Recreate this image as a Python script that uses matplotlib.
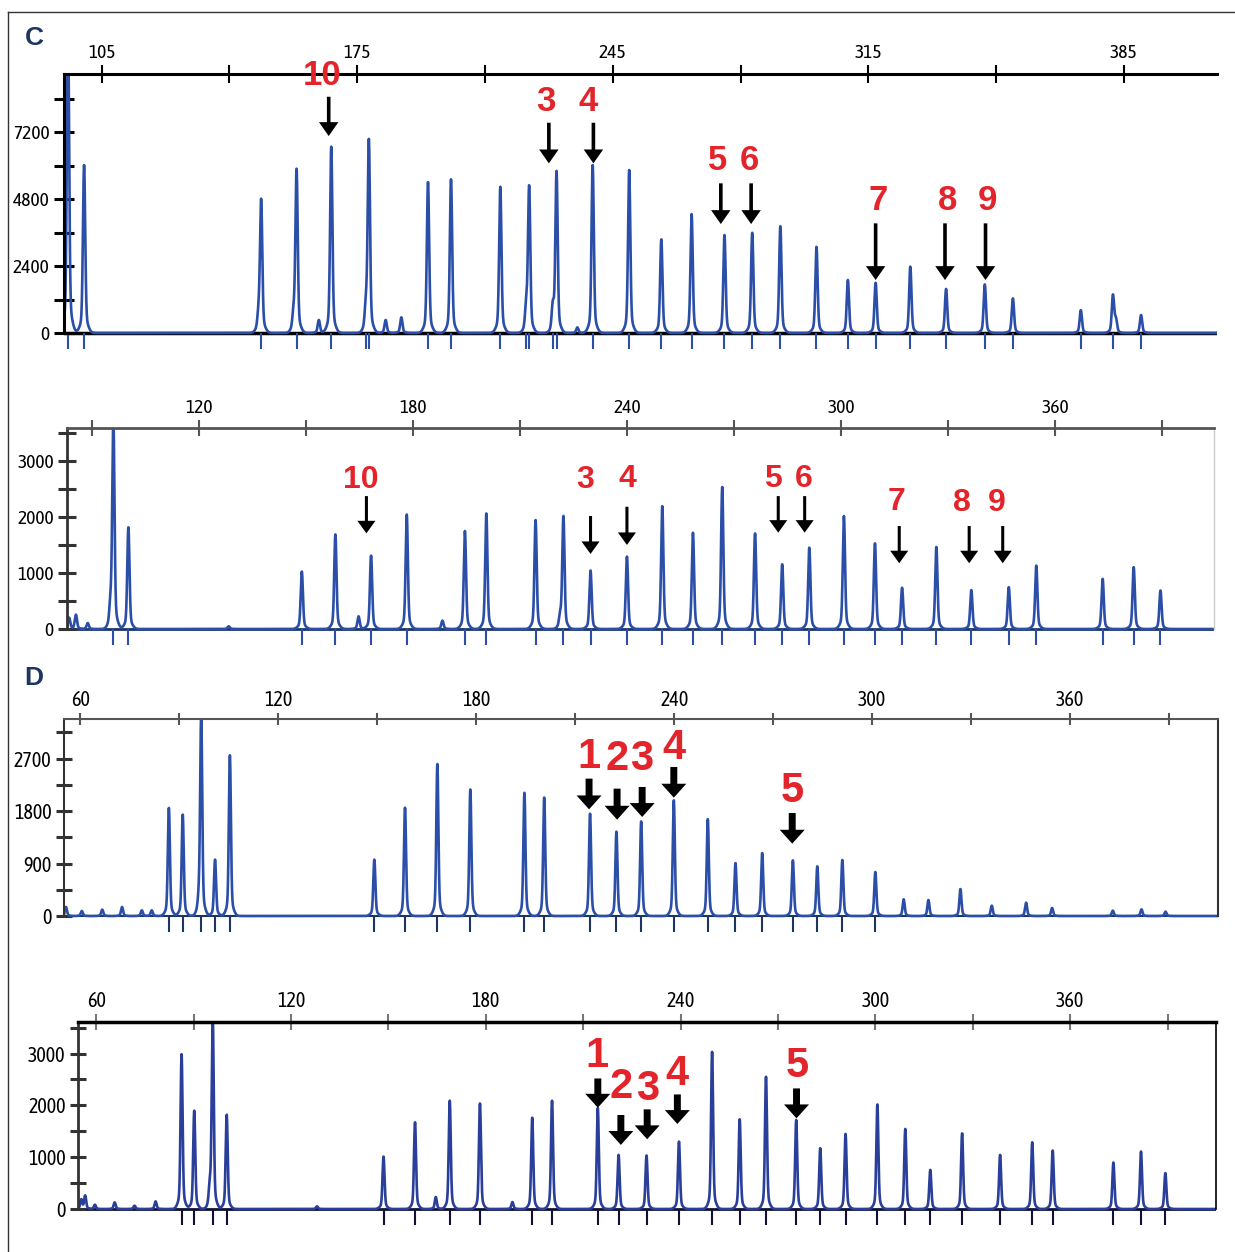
import numpy as np
import matplotlib
matplotlib.use('Agg')
import matplotlib.pyplot as plt
from matplotlib.lines import Line2D

plt.rcParams['font.family'] = ['Asap Condensed', 'Archivo Narrow', 'DejaVu Sans']

# ---- panel C, top trace ----
c1_size = [95.8, 100.2, 148.0, 148.7, 157.6, 158.4, 164.5, 167.9, 177.4, 178.2, 182.8, 187.1,
           194.4, 200.7, 214.2, 221.3, 222.1, 228.6, 229.6, 235.3, 239.5, 249.5, 258.3, 266.6,
           275.6, 283.2, 290.9, 300.8, 309.4, 317.0, 326.5, 336.3, 346.9, 354.6, 373.2, 382.0,
           382.8, 389.7]
c1_height = [11000, 6020, 560, 4740, 560, 5840, 465, 6675, 800, 6880, 465, 560,
             5410, 5505, 5240, 800, 5220, 860, 5760, 200, 6020, 5840, 3355, 4260,
             3510, 3595, 3830, 3090, 1900, 1800, 2380, 1580, 1740, 1240, 820, 1340,
             460, 645]
c1_labels = ['10', '3', '4', '5', '6', '7', '8', '9']
c1_label_x = [165.5, 226.7, 238.3, 273.8, 282.4, 317.6, 336.6, 347.7]
c1_label_y = [9242, 8285, 8285, 6172, 6172, 4764, 4764, 4764]
c1_arrow_x = [167.2, 227.5, 239.7, 274.6, 282.9, 317.0, 336.0, 347.1]
c1_arrow_tail = [8465, 7533, 7533, 5362, 5362, 3929, 3929, 3929]
c1_arrow_tip = [7057, 6078, 6078, 3904, 3904, 1898, 1898, 1898]
c1_xticks = [105, 175, 245, 315, 385]
c1_xminor = [140, 210, 280, 350]
c1_yticks = [0, 2400, 4800, 7200]
c1_yminor = [1200, 3600, 6000, 8400]

# ---- panel C, bottom trace ----
c2_size = [83.7, 85.6, 88.9, 95.3, 96.1, 100.3, 128.4, 148.9, 158.3, 164.8, 168.3, 178.3,
           188.3, 194.6, 200.6, 214.4, 221.3, 222.2, 229.8, 240.0, 249.9, 258.5, 266.7,
           275.9, 283.5, 291.1, 300.8, 309.5, 317.1, 326.7, 336.5, 347.0, 354.7, 373.3,
           382.0, 389.5]
c2_height = [200, 255, 107, 345, 3700, 1818, 48, 1028, 1693, 226, 1313, 2049,
             149, 1752, 2067, 1948, 196, 2008, 1045, 1295, 2198, 1723, 2542,
             1711, 1158, 1455, 2020, 1533, 737, 1467, 695, 748, 1135, 897,
             1105, 689]
c2_labels = ['10', '3', '4', '5', '6', '7', '8', '9']
c2_label_x = [165.3, 228.4, 240.2, 281.0, 289.5, 315.5, 334.0, 343.6]
c2_label_y = [2673, 2673, 2691, 2691, 2691, 2275, 2257, 2257]
c2_arrow_x = [167.0, 229.8, 240.0, 282.4, 289.8, 316.3, 335.9, 345.3]
c2_arrow_tail = [2376, 2020, 2186, 2376, 2376, 1841, 1841, 1841]
c2_arrow_tip = [1711, 1342, 1503, 1723, 1723, 1176, 1176, 1176]
c2_xticks = [120, 180, 240, 300, 360]
c2_xminor = [90, 150, 210, 270, 330, 390]
c2_yticks = [0, 1000, 2000, 3000]
c2_yminor = [500, 1500, 2500, 3500]

# ---- panel D, top trace ----
c3_size = [55.6, 60.4, 66.6, 72.6, 78.6, 81.6, 86.8, 91.0, 95.9, 96.6, 100.8, 105.3,
           149.1, 158.4, 168.2, 178.2, 194.6, 200.6, 214.5, 222.5, 230.0, 239.9, 250.2,
           258.6, 266.7, 276.0, 283.4, 291.0, 301.0, 309.6, 317.1, 326.8, 336.3, 346.7,
           354.6, 373.0, 381.7, 389.0]
c3_height = [154, 86, 109, 154, 97, 97, 1853, 1739, 200, 3450, 967, 2757,
             967, 1859, 2608, 2174, 2116, 2036, 1756, 1447, 1624, 1985, 1665,
             909, 1081, 955, 852, 961, 755, 286, 275, 463, 177, 229,
             137, 92, 114, 74]
d1_labels = ['1', '2', '3', '4', '5']
d1_label_x = [214.2, 222.7, 230.1, 239.9, 275.7]
d1_label_y = [2728, 2700, 2700, 2889, 2139]
d1_arrow_x = [214.2, 222.7, 230.3, 239.9, 275.8]
d1_arrow_tail = [2357, 2185, 2214, 2557, 1767]
d1_arrow_tip = [1830, 1653, 1699, 2031, 1241]
c3_xticks = [60, 120, 180, 240, 300, 360]
c3_xminor = [90, 150, 210, 270, 330, 390]
c3_yticks = [0, 900, 1800, 2700]
c3_yminor = [450, 1350, 2250, 3150]

# ---- panel D, bottom trace ----
c4_size = [55.4, 56.6, 59.6, 65.7, 71.8, 78.3, 86.3, 90.2, 95.0, 95.9, 100.2, 128.0,
           148.5, 158.2, 164.6, 168.9, 178.2, 188.2, 194.3, 200.4, 214.5, 220.9, 229.5,
           239.5, 249.7, 258.2, 266.3, 275.6, 283.0, 290.8, 300.6, 309.2, 316.9, 326.7,
           338.4, 348.3, 354.6, 373.3, 381.8, 389.3]
c4_height = [180, 256, 83, 128, 64, 147, 2987, 1897, 350, 3700, 1820, 51,
             1013, 1673, 231, 2090, 2038, 135, 1763, 2090, 1949, 1045, 1032,
             1301, 3032, 1731, 2551, 1718, 1173, 1449, 2019, 1545, 756, 1461,
             1045, 1288, 1128, 897, 1109, 692]
d2_labels = ['1', '2', '3', '4', '5']
d2_label_x = [214.1, 221.6, 229.7, 239.0, 276.0]
d2_label_y = [2949, 2359, 2308, 2596, 2756]
d2_arrow_x = [214.5, 221.6, 229.7, 239.0, 275.7]
d2_arrow_tail = [2519, 1814, 1923, 2211, 2327]
d2_arrow_tip = [1955, 1237, 1346, 1641, 1750]
c4_xticks = [60, 120, 180, 240, 300, 360]
c4_xminor = [90, 150, 210, 270, 330, 390]
c4_yticks = [0, 1000, 2000, 3000]
c4_yminor = [500, 1500, 2500, 3500]

W, H = 1235, 1252
fig = plt.figure(figsize=(W / 100, H / 100), dpi=100)

BLUE = '#2b4fa8'
RED = '#e3242b'
NAVY = '#1c3563'
BOLD = ['Liberation Sans', 'DejaVu Sans']


def make_axes(left, right, top, base, xlim, ymax, below=20):
    ax = fig.add_axes([left / W, 1 - (base + below) / H, (right - left) / W, (base + below - top) / H])
    ax.set_xlim(*xlim)
    ax.set_ylim(-ymax * below / (base - top), ymax)
    ax.patch.set_alpha(0)
    return ax


def draw_trace(ax, sizes, heights, xlim, color, lw=1.9, mark_color=None, base_color='k', base_lw=2):
    x = np.linspace(xlim[0], xlim[1], 8000)
    y = np.zeros_like(x)
    for s, h in zip(sizes, heights):
        y += 0.9 * h * np.exp(-0.5 * ((x - s) / 0.3) ** 2)
        y += 0.1 * h * np.exp(-0.5 * ((x - s) / 0.9) ** 2)
    ax.axhline(0, color=base_color, lw=base_lw, zorder=1)
    ax.plot(x, y, color=color, lw=lw, zorder=2)
    lo = ax.get_ylim()[0]
    big = [s for s, h in zip(sizes, heights) if h > 600]
    ax.vlines(big, lo * 0.8, 0, color=mark_color or color, lw=1.5, zorder=1)


def style_axes(ax, xt, xm, yt, ym, top_color, top_lw, left_color, left_lw, right=None,
               xlen=13, ylen=15, fs=14):
    ax.xaxis.tick_top()
    ax.set_xticks(xt)
    ax.set_xticks(xm, minor=True)
    ax.set_yticks(yt)
    ax.set_yticks(ym, minor=True)
    ax.set_yticklabels([str(v) for v in yt])
    ax.tick_params(axis='x', which='both', direction='inout', length=xlen, width=1.5,
                   color=top_color, labelsize=fs, pad=2)
    ax.tick_params(axis='y', which='both', direction='inout', length=ylen, width=2.2,
                   color=left_color, labelsize=fs, pad=3)
    for sp in ['bottom', 'right']:
        ax.spines[sp].set_visible(False)
    ax.spines['top'].set_color(top_color)
    ax.spines['top'].set_linewidth(top_lw)
    ax.spines['left'].set_color(left_color)
    ax.spines['left'].set_linewidth(left_lw)
    ax.spines['left'].set_bounds(0, ax.get_ylim()[1])
    if right:
        ax.spines['right'].set_visible(True)
        ax.spines['right'].set_color(right[0])
        ax.spines['right'].set_linewidth(right[1])
        ax.spines['right'].set_bounds(0, ax.get_ylim()[1])


def draw_arrows(ax, labels, lx, ly, ax_x, tail, tip, fs, hw, hl, tw):
    for t, x, y in zip(labels, lx, ly):
        ax.text(x, y, t, color=RED, fontsize=fs, fontweight='bold', ha='center', va='center',
                family=BOLD, zorder=5)
    for x, a, b in zip(ax_x, tail, tip):
        ax.annotate('', xy=(x, b), xytext=(x, a),
                    arrowprops=dict(arrowstyle=f'simple,head_width={hw},head_length={hl},tail_width={tw}',
                                    fc='black', ec='none', shrinkA=0, shrinkB=0, mutation_scale=1),
                    zorder=5)


# panel C top
xl1 = (94.7, 410.5)
ax1 = make_axes(64, 1217, 74, 333, xl1, 9280)
draw_trace(ax1, c1_size, c1_height, xl1, BLUE, base_lw=2.5)
style_axes(ax1, c1_xticks, c1_xminor, c1_yticks, c1_yminor, 'black', 2.2, 'black', 2.2)
draw_arrows(ax1, c1_labels, c1_label_x, c1_label_y, c1_arrow_x, c1_arrow_tail, c1_arrow_tip,
            25, 14, 10, 2.6)

# panel C bottom
xl2 = (83.1, 404.5)
ax2 = make_axes(67, 1214, 428, 629, xl2, 3594)
draw_trace(ax2, c2_size, c2_height, xl2, BLUE, base_color=NAVY)
style_axes(ax2, c2_xticks, c2_xminor, c2_yticks, c2_yminor, '#555555', 2.0, '#333333', 2.0,
           right=('#cccccc', 1.0), xlen=12, ylen=13)
draw_arrows(ax2, c2_labels, c2_label_x, c2_label_y, c2_arrow_x, c2_arrow_tail, c2_arrow_tip,
            23, 13, 9, 2.2)

# panel D top
xl3 = (55.0, 404.9)
ax3 = make_axes(64, 1218, 719, 916, xl3, 3380)
draw_trace(ax3, c3_size, c3_height, xl3, BLUE, base_color=NAVY, base_lw=1.5, mark_color=NAVY)
style_axes(ax3, c3_xticks, c3_xminor, c3_yticks, c3_yminor, '#555555', 1.5, '#333333', 1.5,
           right=('#333333', 1.5), xlen=9, ylen=12, fs=14.5)
draw_arrows(ax3, d1_labels, d1_label_x, d1_label_y, d1_arrow_x, d1_arrow_tail, d1_arrow_tip,
            30, 18, 10, 5)

# panel D bottom
xl4 = (54.4, 404.9)
ax4 = make_axes(78, 1216, 1022, 1209, xl4, 3609)
draw_trace(ax4, c4_size, c4_height, xl4, '#2a3f9a', base_color='#111133', base_lw=2, mark_color='#111133')
style_axes(ax4, c4_xticks, c4_xminor, c4_yticks, c4_yminor, 'black', 2.5, '#333333', 2.0,
           right=('black', 1.2), xlen=12, ylen=12, fs=14.5)
ax4.tick_params(axis='x', which='both', color='#777777')
draw_arrows(ax4, d2_labels, d2_label_x, d2_label_y, d2_arrow_x, d2_arrow_tail, d2_arrow_tip,
            30, 18, 10, 5)

# panel letters and frame
fig.text(34 / W, 1 - 38 / H, 'C', color=NAVY, fontsize=19, fontweight='bold', ha='center', va='center',
         family=BOLD)
fig.text(34 / W, 1 - 678 / H, 'D', color=NAVY, fontsize=19, fontweight='bold', ha='center', va='center',
         family=BOLD)
fig.add_artist(Line2D([8 / W, 1], [1 - 12 / H, 1 - 12 / H], color='#333333', lw=1))
fig.add_artist(Line2D([8 / W, 8 / W], [0, 1 - 12 / H], color='#333333', lw=1))

fig.savefig('out.png', dpi=100)
